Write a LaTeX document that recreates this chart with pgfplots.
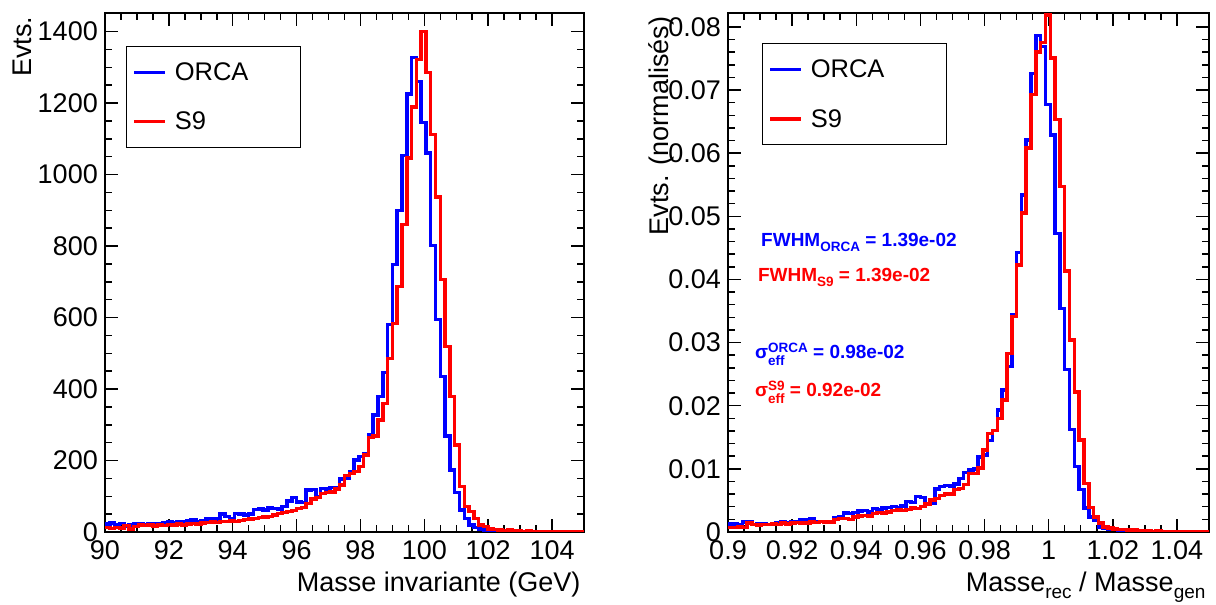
\documentclass[border=0pt]{standalone}
\usepackage{fontspec}
\setmainfont{Liberation Sans}
\usepackage{pgfplots}
\pgfplotsset{compat=1.18}
\usepackage{pgfplotstable}

\definecolor{rblue}{RGB}{0,0,255}
\definecolor{rred}{RGB}{255,0,0}

\newcommand\tfont{\fontsize{27}{30}\selectfont}
\newcommand\lfont{\fontsize{27}{30}\selectfont}
\newcommand\sfont{\fontsize{13.5}{13.5}\selectfont}
\newcommand\supsub[2]{\begingroup\sfont\setbox0\hbox{#1}\setbox2\hbox{#2}\raisebox{6pt}{\copy0}\kern-\wd0 \raisebox{-7pt}{\copy2}\ifdim\wd0>\wd2 \kern\dimexpr\wd0-\wd2\relax\fi\endgroup}

\pgfplotstableread{
x b r
90.00 22 12
90.15 25 10
90.30 20 13
90.45 24 11
90.60 17 18
90.75 20 9
90.90 24 16
91.05 22 19
91.20 21 18
91.35 23 19
91.50 24 17
91.65 22 20
91.80 25 18
91.95 28 21
92.10 27 20
92.25 29 22
92.40 28 19
92.55 31 22
92.70 33 24
92.85 30 22
93.00 32 25
93.15 36 26
93.30 38 28
93.45 37 27
93.60 50 30
93.75 44 29
93.90 38 31
94.05 52 30
94.20 51 32
94.35 47 35
94.50 50 36
94.65 63 38
94.80 64 40
94.95 62 42
95.10 67 44
95.25 66 48
95.40 64 52
95.55 72 55
95.70 87 58
95.85 96 60
96.00 84 66
96.15 82 68
96.30 118 80
96.45 119 92
96.60 100 96
96.75 121 108
96.90 120 110
97.05 124 112
97.20 125 120
97.35 148 132
97.50 150 158
97.65 169 164
97.80 202 169
97.95 211 183
98.10 220 215
98.25 272 265
98.40 328 269
98.55 379 314
98.70 446 360
98.85 580 486
99.00 748 584
99.15 900 687
99.30 1053 860
99.45 1226 1046
99.60 1328 1189
99.75 1261 1322
99.90 1146 1400
100.05 1060 1286
100.20 801 1112
100.35 595 937
100.50 435 707
100.65 269 519
100.80 174 379
100.95 110 244
101.10 62 127
101.25 38 71
101.40 20 57
101.55 12 38
101.70 8 20
101.85 6 15
102.00 5 9
102.15 4 7
102.30 4 6
102.45 3 4
102.60 3 5
102.75 2 3
102.90 3 3
103.05 2 2
103.20 2 3
103.35 1 2
103.50 2 1
103.65 1 2
103.80 1 1
103.95 1 1
104.10 2 1
104.25 1 1
104.40 1 0
104.55 0 1
104.70 1 0
104.85 0 1
105.00 0 1
}\leftdata

\pgfplotstableread{
x b r
0.9000 0.0013 0.0007
0.9015 0.0013 0.0007
0.9030 0.0012 0.0008
0.9045 0.0016 0.0007
0.9060 0.0016 0.0014
0.9075 0.0012 0.0012
0.9090 0.0013 0.0011
0.9105 0.0013 0.0012
0.9120 0.0012 0.0012
0.9135 0.0013 0.0013
0.9150 0.0014 0.0012
0.9165 0.0016 0.0014
0.9180 0.0015 0.0013
0.9195 0.0016 0.0014
0.9210 0.0017 0.0015
0.9225 0.0020 0.0014
0.9240 0.0019 0.0014
0.9255 0.0021 0.0016
0.9270 0.0016 0.0015
0.9285 0.0017 0.0017
0.9300 0.0015 0.0016
0.9315 0.0017 0.0016
0.9330 0.0023 0.0020
0.9345 0.0024 0.0021
0.9360 0.0030 0.0021
0.9375 0.0029 0.0020
0.9390 0.0031 0.0024
0.9405 0.0033 0.0025
0.9420 0.0034 0.0026
0.9435 0.0032 0.0025
0.9450 0.0037 0.0029
0.9465 0.0036 0.0031
0.9480 0.0038 0.0030
0.9495 0.0039 0.0032
0.9510 0.0040 0.0034
0.9525 0.0038 0.0035
0.9540 0.0041 0.0034
0.9555 0.0048 0.0036
0.9570 0.0047 0.0038
0.9585 0.0056 0.0037
0.9600 0.0055 0.0040
0.9615 0.0045 0.0044
0.9630 0.0046 0.0051
0.9645 0.0068 0.0053
0.9660 0.0072 0.0058
0.9675 0.0074 0.0060
0.9690 0.0073 0.0060
0.9705 0.0076 0.0067
0.9720 0.0085 0.0069
0.9735 0.0094 0.0075
0.9750 0.0098 0.0093
0.9765 0.0100 0.0093
0.9780 0.0119 0.0101
0.9795 0.0122 0.0130
0.9810 0.0145 0.0156
0.9825 0.0161 0.0161
0.9840 0.0193 0.0180
0.9855 0.0225 0.0209
0.9870 0.0262 0.0283
0.9885 0.0344 0.0341
0.9900 0.0443 0.0423
0.9915 0.0534 0.0505
0.9930 0.0621 0.0608
0.9945 0.0726 0.0693
0.9960 0.0786 0.0760
0.9975 0.0769 0.0775
0.9990 0.0677 0.0819
1.0005 0.0629 0.0751
1.0020 0.0473 0.0653
1.0035 0.0354 0.0547
1.0050 0.0257 0.0413
1.0065 0.0162 0.0304
1.0080 0.0104 0.0222
1.0095 0.0067 0.0146
1.0110 0.0038 0.0077
1.0125 0.0024 0.0039
1.0140 0.0019 0.0024
1.0155 0.0008 0.0014
1.0170 0.0006 0.0008
1.0185 0.0005 0.0006
1.0200 0.0004 0.0005
1.0215 0.0003 0.0004
1.0230 0.0003 0.0004
1.0245 0.0002 0.0003
1.0260 0.0002 0.0003
1.0275 0.0002 0.0002
1.0290 0.0001 0.0002
1.0305 0.0002 0.0002
1.0320 0.0001 0.0001
1.0335 0.0001 0.0002
1.0350 0.0001 0.0001
1.0365 0.0001 0.0001
1.0380 0.0000 0.0001
1.0395 0.0001 0.0001
1.0410 0.0001 0.0000
1.0425 0.0000 0.0001
1.0440 0.0001 0.0000
1.0455 0.0000 0.0001
1.0470 0.0001 0.0000
1.0485 0.0000 0.0001
1.0500 0.0000 0.0001
}\rightdata

\pgfplotsset{
  rootstyle/.style={
    scale only axis,
    height=519pt,
    ymin=0,
    axis line style={line width=2pt},
    every tick/.style={line width=1.5pt, black},
    tick align=inside,
    tick pos=both,
    major tick length=13pt,
    minor tick length=7pt,
    xticklabel style={font=\tfont, anchor=base, yshift=-28pt},
    yticklabel style={font=\tfont, anchor=east, inner sep=0pt, xshift=-7pt},
    label style={font=\lfont},
    xlabel style={at={(axis description cs:1,0)}, anchor=base east, yshift=-60pt},
    legend cell align=left,
    legend image code/.code={\draw[##1, line width=3.5pt] (0pt,0pt) -- (31pt,0pt);},
    legend style={anchor=north west, draw=black, line width=1.2pt,
      inner xsep=6pt, inner ysep=14pt, row sep=26pt, column sep=6pt,
      font=\fontsize{25.5}{30}\selectfont},
  }
}

\begin{document}
\begin{tikzpicture}
\path[use as bounding box] (0pt,0pt) rectangle (1216pt,605pt);

\begin{axis}[rootstyle,
  at={(105pt,73pt)}, anchor=south west,
  width=479pt,
  xmin=90, xmax=105, ymax=1452,
  xtick={90,92,94,96,98,100,102,104},
  xticklabels={90,92,94,96,98,100,102,104},
  minor x tick num=3,
  ytick={0,200,400,600,800,1000,1200,1400},
  yticklabels={0,200,400,600,800,1000,1200,1400},
  minor y tick num=3,
  xlabel={Masse invariante (GeV)},
  ylabel={Evts.},
  ylabel style={at={(axis description cs:-0.1524,1)}, anchor=base east},
  legend style={at={(0.0432,0.9364)}},
]
\addplot[rblue, line width=3.5pt, const plot mark left] table[x=x, y=b] {\leftdata};
\addlegendentry{\makebox[118pt][l]{ORCA}}
\addplot[rred, line width=3.5pt, const plot mark left] table[x=x, y=r] {\leftdata};
\addlegendentry{\makebox[118pt][l]{S9}}
\end{axis}

\begin{axis}[rootstyle,
  at={(728pt,73pt)}, anchor=south west,
  width=481pt,
  xmin=0.9, xmax=1.05, ymax=0.0822,
  xtick={0.9,0.92,0.94,0.96,0.98,1.0,1.02,1.04},
  xticklabels={0.9,0.92,0.94,0.96,0.98,1,1.02,1.04},
  minor x tick num=3,
  ytick={0,0.01,0.02,0.03,0.04,0.05,0.06,0.07,0.08},
  yticklabels={0,0.01,0.02,0.03,0.04,0.05,0.06,0.07,0.08},
  minor y tick num=4,
  xlabel={Masse\raisebox{-7pt}{\fontsize{19}{19}\selectfont rec} / Masse\raisebox{-7pt}{\fontsize{19}{19}\selectfont gen}},
  ylabel={Evts. (normalisés)},
  ylabel style={at={(axis description cs:-0.1247,1)}, anchor=base east},
  legend style={at={(0.070,0.9416)}},
]
\addplot[rblue, line width=3.5pt, const plot mark left] table[x=x, y=b] {\rightdata};
\addlegendentry{\makebox[128pt][l]{ORCA}}
\addplot[rred, line width=3.5pt, const plot mark left] table[x=x, y=r] {\rightdata};
\addlegendentry{\makebox[128pt][l]{S9}}

\node[anchor=base west, text=rblue, font={\fontsize{19}{21}\selectfont\bfseries}, inner sep=0pt]
  at (axis cs:0.9103,0.04521) {FWHM\raisebox{-5pt}{\sfont ORCA} = 1.39e-02};
\node[anchor=base west, text=rred, font={\fontsize{19}{21}\selectfont\bfseries}, inner sep=0pt]
  at (axis cs:0.9093,0.03967) {FWHM\raisebox{-5pt}{\sfont S9} = 1.39e-02};
\node[anchor=base west, text=rblue, font={\fontsize{19}{21}\selectfont\bfseries}, inner sep=0pt]
  at (axis cs:0.9084,0.02742) {σ\supsub{ORCA}{eff} = 0.98e-02};
\node[anchor=base west, text=rred, font={\fontsize{19}{21}\selectfont\bfseries}, inner sep=0pt]
  at (axis cs:0.9084,0.02144) {σ\supsub{S9}{eff} = 0.92e-02};
\end{axis}
\end{tikzpicture}
\end{document}
